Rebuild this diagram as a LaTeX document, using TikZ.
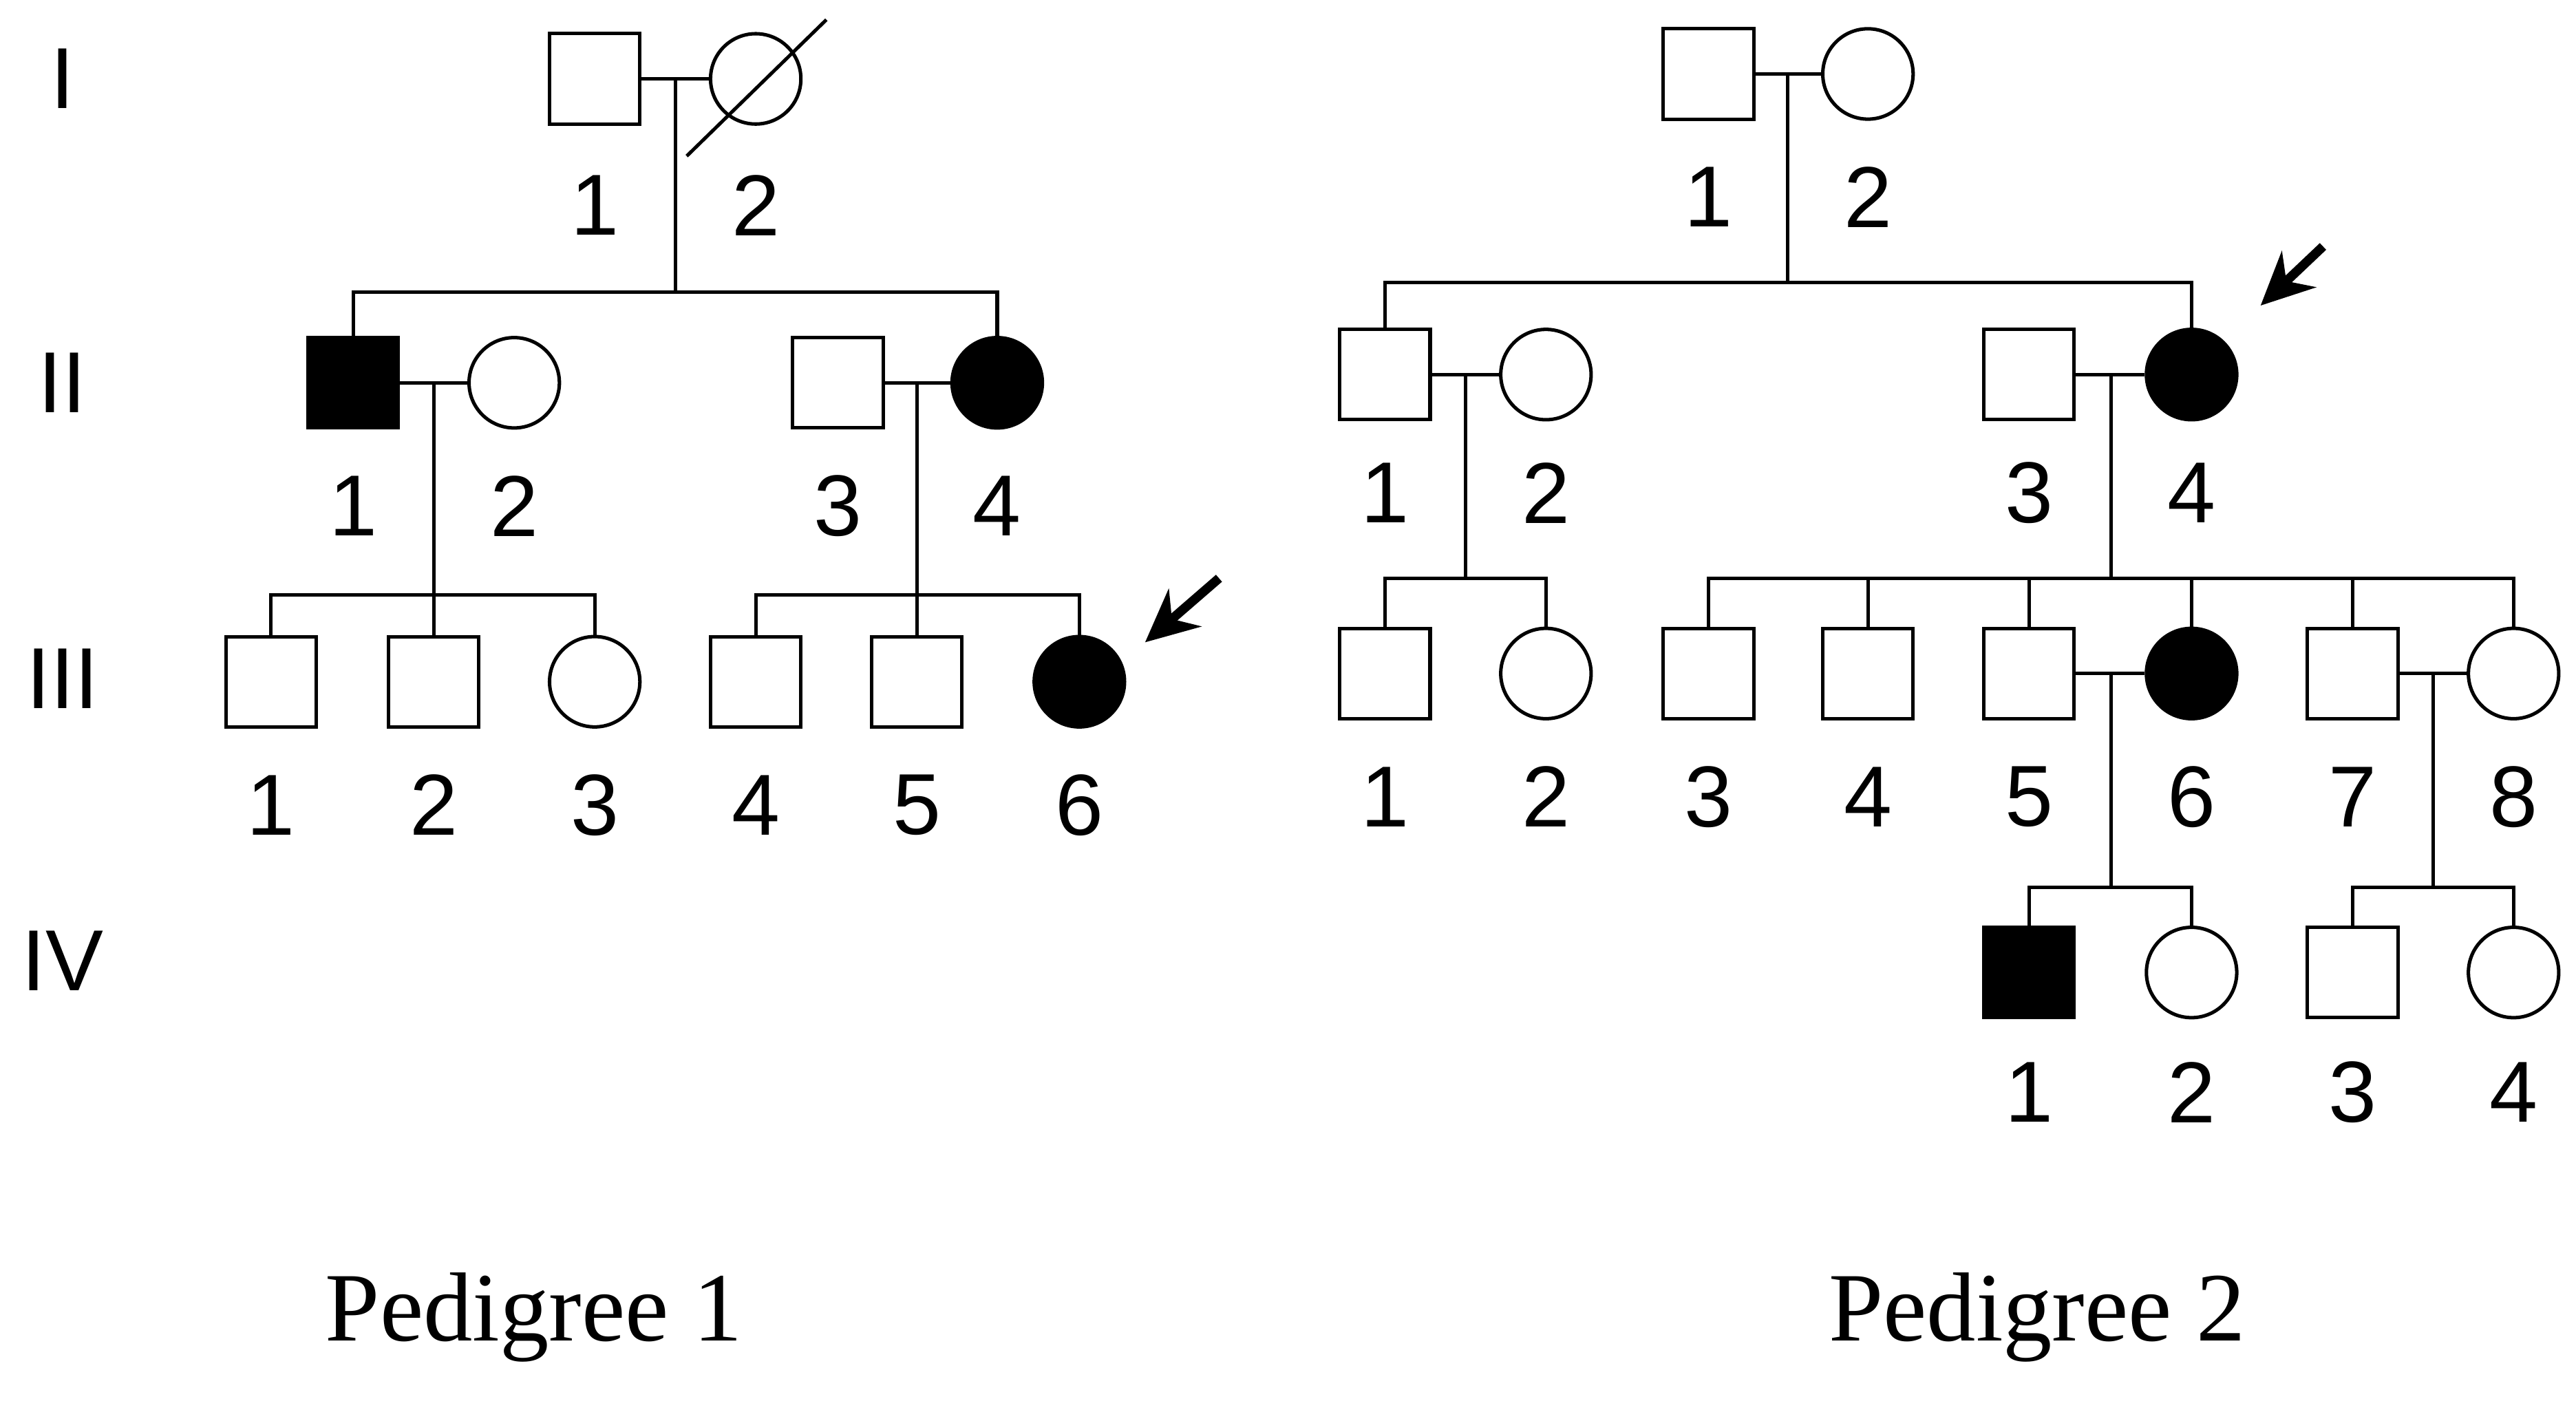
\documentclass[tikz,border=0pt]{standalone}
\usetikzlibrary{arrows.meta}
\usepackage{fontspec}
\setmainfont{Liberation Sans}
\newfontfamily\capfont{Liberation Serif}
\begin{document}
\begin{tikzpicture}[x=0.1mm,y=-0.1mm,line width=0.6pt,
  m/.style={draw,rectangle,minimum size=5.5mm,inner sep=0pt,fill=white},
  f/.style={draw,circle,minimum size=5.5mm,inner sep=0pt,fill=white},
  aff/.style={fill=black},
  lab/.style={font=\fontsize{15}{15}\selectfont},
  gen/.style={font=\fontsize{15}{15}\selectfont},
  captxt/.style={font=\capfont\fontsize{17}{17}\selectfont},
  arr/.style={-{Stealth[length=3.2mm,width=3mm]},line width=1.6pt}]
\useasboundingbox (0,0) rectangle (1568,858);
% generation labels
\node[gen] (gI) at (38,48) {I};
\node[gen] (gII) at (38,233) {II};
\node[gen] (gIII) at (38,413) {III};
\node[gen] (gIV) at (38,585) {IV};
% ===== Pedigree 1 =====
\node[m] (aI1) at (362,48) {};
\node[f] (aI2) at (460,48) {};
\coordinate (aS1) at (418,95); \coordinate (aS2) at (503,12);
\draw (aS1) -- (aS2);
\coordinate (aM1) at (411,48); \coordinate (aB1) at (411,178);
\draw (aI1) -- (aI2);
\draw (aM1) -- (aB1);
\node[lab] at (362,125) {1}; \node[lab] at (460,125) {2};
\node[m,aff] (aII1) at (215,233) {};
\node[f] (aII2) at (313,233) {};
\node[m] (aII3) at (510,233) {};
\node[f,aff] (aII4) at (607,233) {};
\draw (aII1.north) |- (aB1) -| (aII4.north);
\foreach \x/\t in {215/1,313/2,510/3,607/4} \node[lab] at (\x,308) {\t};
\draw (aII1) -- (aII2); \draw (aII3) -- (aII4);
\coordinate (aM2) at (264,233); \coordinate (aB2) at (264,362);
\coordinate (aM3) at (558,233); \coordinate (aB3) at (558,362);
\draw (aM2) -- (aB2); \draw (aM3) -- (aB3);
\node[m] (aIII1) at (165,415) {};
\node[m] (aIII2) at (264,415) {};
\node[f] (aIII3) at (362,415) {};
\node[m] (aIII4) at (460,415) {};
\node[m] (aIII5) at (558,415) {};
\node[f,aff] (aIII6) at (657,415) {};
\draw (aIII1.north) |- (aB2) -| (aIII3.north);
\draw (aB2) -- (aIII2.north);
\draw (aIII4.north) |- (aB3) -| (aIII6.north);
\draw (aB3) -- (aIII5.north);
\foreach \x/\t in {165/1,264/2,362/3,460/4,558/5,657/6} \node[lab] at (\x,490) {\t};
\coordinate (aA1) at (742,352); \coordinate (aA2) at (697,391);
\draw[arr] (aA1) -- (aA2);
\node[captxt] (c1) at (325,802) {Pedigree 1};
% ===== Pedigree 2 =====
\node[m] (bI1) at (1040,45) {};
\node[f] (bI2) at (1137,45) {};
\draw (bI1) -- (bI2);
\coordinate (bM1) at (1088,45); \coordinate (bB1) at (1088,172);
\draw (bM1) -- (bB1);
\node[lab] at (1040,120) {1}; \node[lab] at (1137,120) {2};
\node[m] (bII1) at (843,228) {};
\node[f] (bII2) at (941,228) {};
\node[m] (bII3) at (1235,228) {};
\node[f,aff] (bII4) at (1334,228) {};
\draw (bII1.north) |- (bB1) -| (bII4.north);
\draw (bII1) -- (bII2); \draw (bII3) -- (bII4);
\foreach \x/\t in {843/1,941/2,1235/3,1334/4} \node[lab] at (\x,300) {\t};
\coordinate (bA1) at (1414,150); \coordinate (bA2) at (1376,186);
\draw[arr] (bA1) -- (bA2);
\coordinate (bM2) at (892,228); \coordinate (bB2) at (892,352);
\coordinate (bM3) at (1285,228); \coordinate (bB3) at (1285,352);
\draw (bM2) -- (bB2); \draw (bM3) -- (bB3);
\node[m] (bIII1) at (843,410) {};
\node[f] (bIII2) at (941,410) {};
\node[m] (bIII3) at (1040,410) {};
\node[m] (bIII4) at (1137,410) {};
\node[m] (bIII5) at (1235,410) {};
\node[f,aff] (bIII6) at (1334,410) {};
\node[m] (bIII7) at (1432,410) {};
\node[f] (bIII8) at (1530,410) {};
\draw (bIII1.north) |- (bB2) -| (bIII2.north);
\draw (bIII3.north) |- (bB3) -| (bIII8.north);
\draw (bB3 -| bIII4) -- (bIII4.north);
\draw (bB3 -| bIII5) -- (bIII5.north);
\draw (bB3 -| bIII6) -- (bIII6.north);
\draw (bB3 -| bIII7) -- (bIII7.north);
\draw (bIII5) -- (bIII6); \draw (bIII7) -- (bIII8);
\foreach \x/\t in {843/1,941/2,1040/3,1137/4,1235/5,1334/6,1432/7,1530/8} \node[lab] at (\x,485) {\t};
\coordinate (bM4) at (1285,410); \coordinate (bB4) at (1285,540);
\coordinate (bM5) at (1481,410); \coordinate (bB5) at (1481,540);
\draw (bM4) -- (bB4); \draw (bM5) -- (bB5);
\node[m,aff] (bIV1) at (1235,592) {};
\node[f] (bIV2) at (1334,592) {};
\node[m] (bIV3) at (1432,592) {};
\node[f] (bIV4) at (1530,592) {};
\draw (bIV1.north) |- (bB4) -| (bIV2.north);
\draw (bIV3.north) |- (bB5) -| (bIV4.north);
\foreach \x/\t in {1235/1,1334/2,1432/3,1530/4} \node[lab] at (\x,665) {\t};
\node[captxt] (c2) at (1240,802) {Pedigree 2};
\end{tikzpicture}
\end{document}
